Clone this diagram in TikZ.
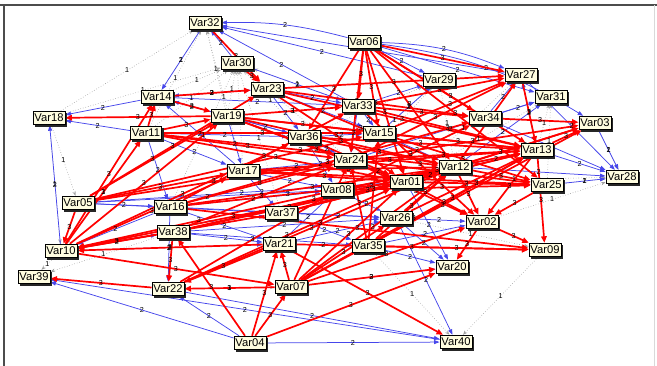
\documentclass[tikz,border=0pt]{standalone}
\usepackage{fontspec}
\setmainfont{Liberation Sans}
\usetikzlibrary{arrows.meta,shadows,backgrounds}
\definecolor{linkblue}{RGB}{70,70,235}
\def\wonelist{var18/var32,var18/var30,var14/var32,var11/var32,var18/var05,var18/var10,
    var19/var30,var17/var30,var36/var30,var11/var30,var14/var30,var16/var30,var33/var30,
    var19/var32,var17/var32,var12/var27,var13/var27,var01/var27,var24/var29,var15/var29,
    var08/var29,var12/var29,var01/var31,var13/var31,var25/var31,var03/var28,var25/var28,
    var02/var28,var01/var28,var09/var40,var35/var40,var22/var07,var38/var39,var10/var39,
    var26/var09,var36/var29,var24/var30,var37/var30,var11/var10}
\def\wtwolist{var27/var32,var29/var32,var33/var32,var30/var32,var32/var14,
    var14/var18,var11/var18,var10/var18,var19/var14,var23/var14,var17/var14,
    var06/var31,var06/var29,var33/var29,var15/var29,var27/var28,var03/var28,var13/var28,
    var12/var28,var34/var28,var25/var28,var34/var27,var13/var27,var12/var31,var34/var31,
    var24/var31,var04/var39,var04/var22,var04/var40,var40/var39,var22/var40,var26/var40,
    var35/var20,var07/var20,var16/var10,var05/var16,var10/var21,var38/var21,var16/var21,
    var10/var37,var05/var08,var05/var01,var16/var08,var16/var26,var38/var35,var38/var26,
    var16/var22,var17/var24,var17/var08,var36/var15,var36/var24,var19/var36,var19/var17,
    var11/var17,var11/var36,var17/var37,var36/var08,var24/var01,var15/var12,var33/var15,
    var33/var24,var23/var33,var23/var36,var23/var15,var30/var33,var14/var33,var14/var36,
    var12/var13,var01/var12,var08/var01,var08/var26,var26/var02,var35/var02,var37/var26,
    var37/var35,var21/var35,var21/var26,var21/var08,var01/var20,var26/var20,var14/var23,
    var11/var16,var05/var37,var10/var38}
\def\wthreelist{var06/var33,var06/var15,var06/var24,var06/var12,var06/var13,var06/var34,
    var06/var27,var06/var01,var06/var36,var06/var25,var32/var23,var30/var23,var14/var23,
    var14/var19,var19/var18,var11/var14,var11/var19,var10/var11,var10/var14,var10/var19,
    var10/var17,var10/var36,var05/var10,var05/var19,var05/var23,var05/var17,var05/var24,
    var05/var15,var16/var12,var16/var01,var16/var24,var16/var33,var16/var34,var38/var10,
    var21/var10,var37/var10,var08/var10,var01/var10,var38/var22,var21/var22,var07/var22,
    var04/var21,var04/var07,var04/var38,var04/var20,var07/var21,var07/var13,var07/var12,
    var07/var01,var07/var26,var07/var02,var07/var20,var07/var24,var07/var03,var21/var40,
    var21/var09,var22/var39,var02/var09,var13/var09,var02/var20,var12/var02,var13/var02,
    var01/var02,var25/var02,var24/var02,var34/var03,var13/var03,var12/var03,var24/var03,
    var01/var03,var27/var13,var23/var34,var33/var34,var15/var27,var12/var27,var24/var27,
    var23/var27,var33/var27,var12/var25,var01/var25,var24/var25,var08/var25,var19/var12,
    var19/var01,var19/var24,var19/var15,var19/var33,var19/var13,var36/var12,var36/var13,
    var36/var01,var17/var12,var17/var13,var17/var01,var17/var25,var11/var15,var11/var24,
    var11/var01,var11/var12,var23/var12,var23/var01,var23/var13,var37/var12,var37/var13,
    var37/var01,var08/var12,var08/var13,var08/var34,var35/var12,var35/var13,var35/var24,
    var35/var15,var26/var12,var26/var13,var22/var12,var22/var01,var22/var08,var38/var12,
    var38/var01,var38/var24,var15/var13,var15/var25,var33/var13,var33/var02,var24/var13,
    var01/var13,var35/var09,var10/var07,var16/var09}
\begin{document}
\begin{tikzpicture}[x=1pt,y=-1pt,
    var/.style={draw=black,line width=0.9pt,fill=yellow!12,inner sep=1.5pt,minimum height=13.5pt,
      font=\fontsize{11.2}{12}\selectfont,
      drop shadow={shadow xshift=2pt,shadow yshift=-2pt,fill=black!85,opacity=1}},
    wt/.style={font=\fontsize{7.2}{8}\selectfont,inner sep=0.3pt,pos=0.5},
    wthree/.style={red,line width=1.7pt,-{Triangle[length=6.5pt,width=5.5pt]}},
    wtwo/.style={linkblue,line width=0.75pt,-{Triangle[length=5.5pt,width=4pt]}},
    wone/.style={gray!75,line width=0.6pt,dotted,-{Stealth[length=4.5pt,width=3.5pt,open]}}]
\useasboundingbox (0,0) rectangle (657,366);
\draw[black!70,line width=1.2pt] (0,5) -- (657,5);
\draw[black!70,line width=1.2pt] (4,5) -- (4,366);
\draw[black!15,line width=0.6pt] (654,5) -- (654,366);
% variables
\node[var] (var32) at (205,23) {Var32};
\node[var] (var30) at (237,63) {Var30};
\node[var] (var06) at (364,42) {Var06};
\node[var] (var29) at (439,80) {Var29};
\node[var] (var27) at (521,75) {Var27};
\node[var] (var31) at (551,97) {Var31};
\node[var] (var23) at (267,89) {Var23};
\node[var] (var14) at (157,97) {Var14};
\node[var] (var18) at (49,118) {Var18};
\node[var] (var19) at (227,116) {Var19};
\node[var] (var33) at (358,106) {Var33};
\node[var] (var34) at (485,118) {Var34};
\node[var] (var03) at (595,123) {Var03};
\node[var] (var11) at (146,133) {Var11};
\node[var] (var36) at (304,137) {Var36};
\node[var] (var15) at (379,133) {Var15};
\node[var] (var13) at (537,150) {Var13};
\node[var] (var24) at (350,160) {Var24};
\node[var] (var12) at (455,167) {Var12};
\node[var] (var17) at (243,171) {Var17};
\node[var] (var28) at (622,177) {Var28};
\node[var] (var01) at (406,182) {Var01};
\node[var] (var25) at (547,185) {Var25};
\node[var] (var08) at (337,190) {Var08};
\node[var] (var05) at (78,203) {Var05};
\node[var] (var16) at (170,207) {Var16};
\node[var] (var37) at (281,213) {Var37};
\node[var] (var26) at (396,218) {Var26};
\node[var] (var02) at (482,222) {Var02};
\node[var] (var38) at (173,232) {Var38};
\node[var] (var21) at (279,244) {Var21};
\node[var] (var35) at (368,246) {Var35};
\node[var] (var10) at (61,251) {Var10};
\node[var] (var09) at (545,250) {Var09};
\node[var] (var20) at (452,267) {Var20};
\node[var] (var39) at (34,277) {Var39};
\node[var] (var22) at (168,289) {Var22};
\node[var] (var07) at (291,287) {Var07};
\node[var] (var04) at (250,343) {Var04};
\node[var] (var40) at (456,342) {Var40};
% links, weight 1 / 2 / 3, then their weights on top
\begin{scope}[on background layer]
\foreach \a/\b in \wonelist \draw[wone] (\a) -- (\b);
\foreach \a/\b in \wtwolist \draw[wtwo] (\a) -- (\b);
\draw[wtwo] (var06) to[bend right=8] node[wt,text=black]{2} (var32);
\draw[wtwo] (var06) to[bend left=10] node[wt,text=black]{2} (var27);
\draw[wtwo] (var06) to[bend left=12] node[wt,text=black]{2} (var03);
\foreach \a/\b in \wthreelist \draw[wthree] (\a) -- (\b);
\foreach \a/\b in \wonelist \path (\a) -- node[wt]{1} (\b);
\foreach \a/\b in \wtwolist \path (\a) -- node[wt]{2} (\b);
\foreach \a/\b in \wthreelist \path (\a) -- node[wt]{3} (\b);
\end{scope}
\end{tikzpicture}
\end{document}
